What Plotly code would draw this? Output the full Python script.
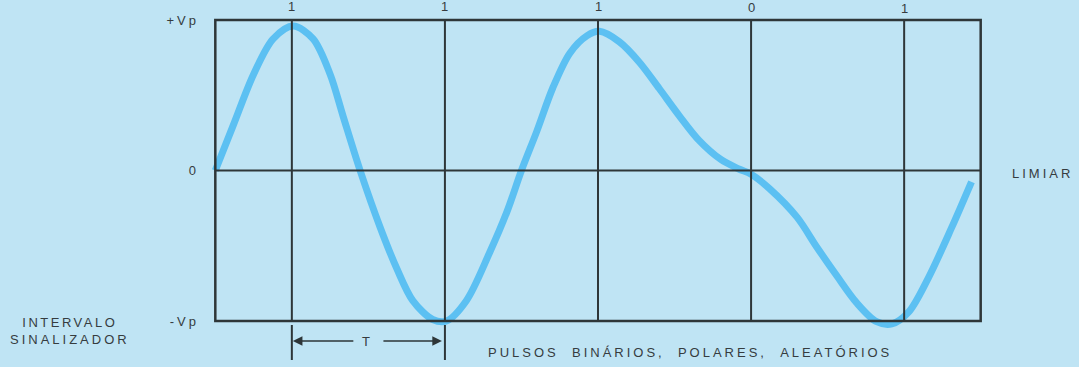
import plotly.graph_objects as go

# ---- data (time in bit intervals T, amplitude in units of Vp) ----
t_vals = [0.0, 0.117, 0.248, 0.378, 0.509, 0.639, 0.75, 0.835, 0.946, 1.076,
          1.187, 1.29, 1.42, 1.51, 1.64, 1.79, 1.905, 2.0, 2.10, 2.205,
          2.316, 2.427, 2.51, 2.64, 2.77, 2.90, 3.03, 3.16, 3.30, 3.42,
          3.50, 3.62, 3.80, 3.93, 4.06, 4.19, 4.32, 4.42, 4.53, 4.66,
          4.81, 4.94]
v_vals = [0.0, 0.30, 0.635, 0.875, 0.96, 0.875, 0.64, 0.36, 0.0, -0.375,
          -0.655, -0.865, -0.99, -1.0, -0.865, -0.55, -0.275, 0.0, 0.26, 0.55,
          0.78, 0.895, 0.925, 0.855, 0.72, 0.545, 0.365, 0.20, 0.075, 0.01,
          -0.025, -0.12, -0.31, -0.51, -0.70, -0.88, -1.005, -1.02, -0.94, -0.71,
          -0.38, -0.075]

sample_times = [0.5, 1.5, 2.5, 3.5, 4.5]
bit_labels = ["1", "1", "1", "0", "1"]
bit_label_px = [7, 7, 7, 7.5, 8]   # vertical centre of the bit labels (page pixels)
level_vals = [-1, 0, 1]
level_text = ["-Vp", "0", "+Vp"]

# ---- style ----
BG = "#bfe4f4"
INK = "#2e3638"
TXT = "#363c3f"
CURVE = "#5cc0f2"
FONT = "Liberation Sans"
XR = [-0.1, 5.1]
YR = [-1.1, 1.1]
W, H = 1079, 367
ML, MR, MT, MB = 200, 83, 5, 31
PW, PH = W - ML - MR, H - MT - MB


def xp(x):
    return (x - XR[0]) / (XR[1] - XR[0])


def py2paper(py):
    return (H - MB - py) / PH


def px2paper(px):
    return (px - ML) / PW


def ls(text, sp):
    return f'<span style="letter-spacing:{sp}px">{text}</span>'


fig = go.Figure()
fig.add_trace(go.Scatter(
    x=t_vals, y=v_vals, mode="lines",
    line=dict(color=CURVE, width=7, shape="spline", smoothing=0.9),
    hoverinfo="skip", showlegend=False,
))

shapes = []
# frame
shapes.append(dict(type="rect", xref="x", yref="y", x0=0, x1=5, y0=-1, y1=1,
                   line=dict(color=INK, width=2.5), layer="above"))
# sampling instants
for s in sample_times:
    shapes.append(dict(type="line", xref="x", yref="y", x0=s, x1=s, y0=-1, y1=1,
                       line=dict(color=INK, width=2), layer="above"))
# threshold line
shapes.append(dict(type="line", xref="x", yref="y", x0=0, x1=5, y0=0, y1=0,
                   line=dict(color=INK, width=2), layer="above"))
# dimension ticks for T
for s in sample_times[:2]:
    shapes.append(dict(type="line", xref="paper", yref="paper",
                       x0=xp(s), x1=xp(s), y0=py2paper(325), y1=py2paper(360),
                       line=dict(color=INK, width=2)))

annotations = []
for s, lab, lp in zip(sample_times, bit_labels, bit_label_px):
    annotations.append(dict(x=xp(s), y=py2paper(lp), xref="paper", yref="paper", text=lab,
                            showarrow=False, xanchor="center", yanchor="middle",
                            font=dict(family=FONT, size=13, color=TXT)))

y_arrow = py2paper(341)
annotations.append(dict(x=xp(sample_times[0]) + 1 / PW, y=y_arrow, xref="paper", yref="paper",
                        text="", showarrow=True, ax=62, ay=0, axref="pixel", ayref="pixel",
                        arrowhead=2, arrowsize=1.2, arrowwidth=1.6, arrowcolor=INK, standoff=0))
annotations.append(dict(x=xp(sample_times[1]) - 3 / PW, y=y_arrow, xref="paper", yref="paper",
                        text="", showarrow=True, ax=-60, ay=0, axref="pixel", ayref="pixel",
                        arrowhead=2, arrowsize=1.2, arrowwidth=1.6, arrowcolor=INK, standoff=0))
annotations.append(dict(x=px2paper(366), y=y_arrow, xref="paper", yref="paper", text="T",
                        showarrow=False, xanchor="center", yanchor="middle",
                        font=dict(family=FONT, size=13, color=TXT)))

nb = "\u00a0\u00a0"
annotations.append(dict(x=px2paper(690), y=py2paper(352), xref="paper", yref="paper",
                        text=ls(f"PULSOS{nb}BINÁRIOS,{nb}POLARES,{nb}ALEATÓRIOS", 3.0),
                        showarrow=False, xanchor="center", yanchor="middle",
                        font=dict(family=FONT, size=13, color=TXT)))
annotations.append(dict(x=px2paper(70), y=py2paper(331), xref="paper", yref="paper",
                        text=ls("INTERVALO", 2.5) + "<br>" + ls("SINALIZADOR", 3.0),
                        showarrow=False, xanchor="center", yanchor="middle", align="center",
                        font=dict(family=FONT, size=13, color=TXT)))
annotations.append(dict(x=px2paper(1010), y=py2paper(173), xref="paper", yref="paper",
                        text=ls("LIMIAR", 3.0),
                        showarrow=False, xanchor="left", yanchor="middle",
                        font=dict(family=FONT, size=13, color=TXT)))

fig.update_layout(
    width=W, height=H,
    margin=dict(l=ML, r=MR, t=MT, b=MB),
    paper_bgcolor=BG, plot_bgcolor=BG,
    shapes=shapes, annotations=annotations,
    showlegend=False,
    xaxis=dict(range=XR, showgrid=False, zeroline=False, showline=False,
               showticklabels=False, ticks="", fixedrange=True),
    yaxis=dict(range=YR, showgrid=False, zeroline=False, showline=False,
               tickvals=level_vals,
               ticktext=[ls(t, 3) for t in level_text],
               ticks="", tickfont=dict(family=FONT, size=13, color=TXT),
               fixedrange=True),
)

fig.write_html(
    "out.html",
    config={"displayModeBar": False},
    post_script="document.body.style.margin='0';document.body.style.overflow='hidden';",
)
